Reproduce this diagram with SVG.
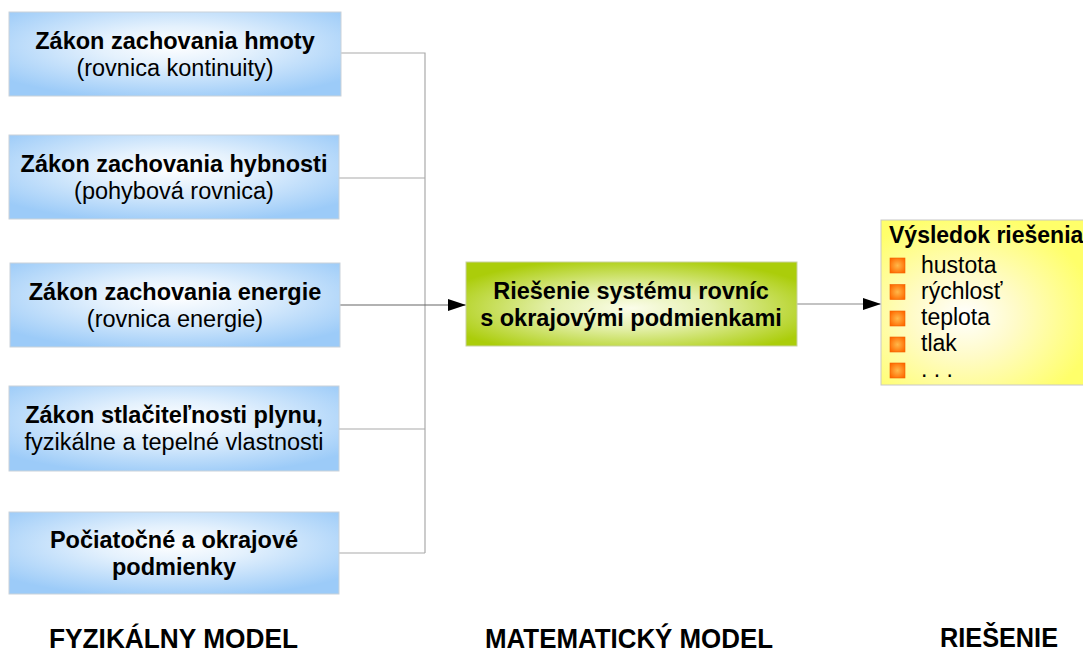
<svg xmlns="http://www.w3.org/2000/svg" width="1083" height="654" viewBox="0 0 1083 654">
<defs>
<radialGradient id="gBlue" cx="50%" cy="40%" r="65%">
<stop offset="0" stop-color="#ffffff"/>
<stop offset="0.35" stop-color="#e4f1fd"/>
<stop offset="1" stop-color="#9ccbf8"/>
</radialGradient>
<radialGradient id="gGreen" cx="50%" cy="55%" r="60%">
<stop offset="0" stop-color="#fbfdea"/>
<stop offset="0.4" stop-color="#e4f0ac"/>
<stop offset="1" stop-color="#abcd0a"/>
</radialGradient>
<radialGradient id="gYellow" cx="40%" cy="58%" r="62%">
<stop offset="0" stop-color="#ffffff"/>
<stop offset="0.4" stop-color="#fffbc8"/>
<stop offset="1" stop-color="#ffff6a"/>
</radialGradient>
<radialGradient id="gBullet" cx="50%" cy="50%" r="60%">
<stop offset="0" stop-color="#ffb84a"/>
<stop offset="1" stop-color="#ff6a00"/>
</radialGradient>
<marker id="arrow" markerWidth="18" markerHeight="12" refX="18" refY="6" orient="auto" markerUnits="userSpaceOnUse">
<path d="M0,0 L18,6 L0,12 Z" fill="#000"/>
</marker>
</defs>
<style>
.box{fill:url(#gBlue);stroke:#c9d2da;stroke-width:1}
.bt{font-family:"Liberation Sans",Arial,sans-serif;font-size:23.5px;font-weight:bold;fill:#000;text-anchor:middle}
.rt{font-family:"Liberation Sans",Arial,sans-serif;font-size:23.5px;fill:#000;text-anchor:middle}
.it{font-family:"Liberation Sans",Arial,sans-serif;font-size:23px;fill:#000}
.lbl{font-family:"Liberation Sans",Arial,sans-serif;font-size:27px;font-weight:bold;fill:#000}
.conn{fill:none;stroke:#aaaaaa;stroke-width:1.2}
.bul{fill:url(#gBullet);stroke:#f06000;stroke-width:0.6}
</style>
<g id="connectors">
<path class="conn" d="M341,53 H425 V553 M339,178 H425 M339,429 H425 M339,553 H425"/>
<line x1="340" y1="305" x2="466" y2="305" stroke="#666" stroke-width="1.2" marker-end="url(#arrow)"/>
<line x1="797" y1="304" x2="881" y2="304" stroke="#888" stroke-width="1.2" marker-end="url(#arrow)"/>
</g>
<g id="node-hmota">
<rect class="box" x="9" y="12" width="332" height="84"/>
<text class="bt" x="175" y="49">Zákon zachovania hmoty</text>
<text class="rt" x="175" y="76">(rovnica kontinuity)</text>
</g>
<g id="node-hybnost">
<rect class="box" x="9" y="135" width="330" height="84"/>
<text class="bt" x="174" y="172">Zákon zachovania hybnosti</text>
<text class="rt" x="174" y="199">(pohybová rovnica)</text>
</g>
<g id="node-energia">
<rect class="box" x="10" y="263" width="330" height="84"/>
<text class="bt" x="175" y="300">Zákon zachovania energie</text>
<text class="rt" x="175" y="327">(rovnica energie)</text>
</g>
<g id="node-stlacitelnost">
<rect class="box" x="9" y="386" width="330" height="85"/>
<text class="bt" x="174" y="423">Zákon stlačiteľnosti plynu,</text>
<text class="rt" x="174" y="450">fyzikálne a tepelné vlastnosti</text>
</g>
<g id="node-podmienky">
<rect class="box" x="9" y="512" width="330" height="82"/>
<text class="bt" x="174" y="548">Počiatočné a okrajové</text>
<text class="bt" x="174" y="575">podmienky</text>
</g>
<g id="node-riesenie">
<rect x="466" y="262" width="331" height="84" fill="url(#gGreen)" stroke="#c9d2a0" stroke-width="1"/>
<text class="bt" x="631" y="299">Riešenie systému rovníc</text>
<text class="bt" x="631" y="326">s okrajovými podmienkami</text>
</g>
<g id="node-vysledok">
<rect x="881" y="220" width="210" height="165" fill="url(#gYellow)" stroke="#c8c8c8" stroke-width="1"/>
<text class="it" x="889" y="243" font-weight="bold">Výsledok riešenia</text>
<rect class="bul" x="890" y="258" width="15" height="15"/>
<text class="it" x="921" y="273">hustota</text>
<rect class="bul" x="890" y="284.5" width="15" height="15"/>
<text class="it" x="921" y="299">rýchlosť</text>
<rect class="bul" x="890" y="311" width="15" height="15"/>
<text class="it" x="921" y="325">teplota</text>
<rect class="bul" x="890" y="337" width="15" height="15"/>
<text class="it" x="921" y="351">tlak</text>
<rect class="bul" x="890" y="363" width="15" height="15"/>
<text class="it" x="921" y="377">. . .</text>
</g>
<g id="labels">
<text class="lbl" x="49" y="648" textLength="249" lengthAdjust="spacingAndGlyphs">FYZIKÁLNY MODEL</text>
<text class="lbl" x="485" y="648" textLength="288" lengthAdjust="spacingAndGlyphs">MATEMATICKÝ MODEL</text>
<text class="lbl" x="940" y="647" textLength="118" lengthAdjust="spacingAndGlyphs">RIEŠENIE</text>
</g>
</svg>
